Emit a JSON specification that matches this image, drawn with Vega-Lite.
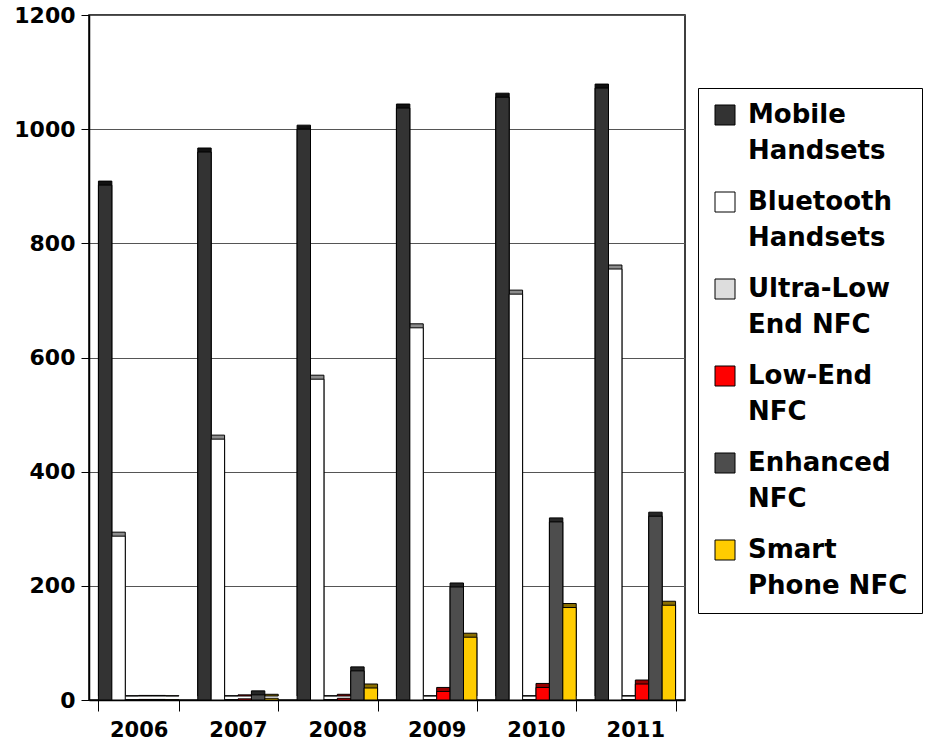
{
  "$schema": "https://vega.github.io/schema/vega-lite/v6.json",
  "autosize": {"type": "none"},
  "padding": {"left": 89, "top": 15, "right": 241, "bottom": 46},
  "width": 596,
  "height": 685,
  "background": "white",
  "config": {
    "view": {"stroke": "black", "strokeWidth": 1.5},
    "font": "DejaVu Sans"
  },
  "data": {
    "values": [
      {"year": "2006", "series": "Mobile Handsets", "value": 902},
      {"year": "2007", "series": "Mobile Handsets", "value": 960},
      {"year": "2008", "series": "Mobile Handsets", "value": 1000},
      {"year": "2009", "series": "Mobile Handsets", "value": 1037},
      {"year": "2010", "series": "Mobile Handsets", "value": 1056},
      {"year": "2011", "series": "Mobile Handsets", "value": 1072},
      {"year": "2006", "series": "Bluetooth Handsets", "value": 287},
      {"year": "2007", "series": "Bluetooth Handsets", "value": 457},
      {"year": "2008", "series": "Bluetooth Handsets", "value": 562},
      {"year": "2009", "series": "Bluetooth Handsets", "value": 652},
      {"year": "2010", "series": "Bluetooth Handsets", "value": 711},
      {"year": "2011", "series": "Bluetooth Handsets", "value": 755},
      {"year": "2006", "series": "Ultra-Low End NFC", "value": 0.5},
      {"year": "2007", "series": "Ultra-Low End NFC", "value": 0.5},
      {"year": "2008", "series": "Ultra-Low End NFC", "value": 0.5},
      {"year": "2009", "series": "Ultra-Low End NFC", "value": 0.5},
      {"year": "2010", "series": "Ultra-Low End NFC", "value": 0.5},
      {"year": "2011", "series": "Ultra-Low End NFC", "value": 0.5},
      {"year": "2006", "series": "Low-End NFC", "value": 1},
      {"year": "2007", "series": "Low-End NFC", "value": 2},
      {"year": "2008", "series": "Low-End NFC", "value": 3},
      {"year": "2009", "series": "Low-End NFC", "value": 15},
      {"year": "2010", "series": "Low-End NFC", "value": 22},
      {"year": "2011", "series": "Low-End NFC", "value": 28},
      {"year": "2006", "series": "Enhanced NFC", "value": 1},
      {"year": "2007", "series": "Enhanced NFC", "value": 9},
      {"year": "2008", "series": "Enhanced NFC", "value": 51},
      {"year": "2009", "series": "Enhanced NFC", "value": 198},
      {"year": "2010", "series": "Enhanced NFC", "value": 312},
      {"year": "2011", "series": "Enhanced NFC", "value": 322},
      {"year": "2006", "series": "Smart Phone NFC", "value": 0.5},
      {"year": "2007", "series": "Smart Phone NFC", "value": 3},
      {"year": "2008", "series": "Smart Phone NFC", "value": 21},
      {"year": "2009", "series": "Smart Phone NFC", "value": 110},
      {"year": "2010", "series": "Smart Phone NFC", "value": 162},
      {"year": "2011", "series": "Smart Phone NFC", "value": 166}
    ]
  },
  "encoding": {
    "x": {
      "field": "year", "type": "nominal",
      "scale": {"paddingInner": 0.19, "paddingOuter": 0.095},
      "axis": {
        "title": null, "labelAngle": 0, "tickBand": "extent",
        "labelFont": "DejaVu Sans", "labelFontWeight": "bold", "labelFontSize": 21,
        "labelColor": "black", "labelPadding": 8,
        "tickColor": "black", "tickSize": 11, "domainColor": "black", "domainWidth": 1.5, "grid": false
      }
    },
    "xOffset": {
      "field": "series", "type": "nominal",
      "scale": {"domain": ["Mobile Handsets", "Bluetooth Handsets", "Ultra-Low End NFC", "Low-End NFC", "Enhanced NFC", "Smart Phone NFC"], "paddingInner": 0, "paddingOuter": 0}
    },
    "y": {
      "field": "value", "type": "quantitative",
      "scale": {"domain": [0, 1200], "nice": false},
      "axis": {
        "title": null, "values": [0, 200, 400, 600, 800, 1000, 1200], "format": "d",
        "labelFont": "DejaVu Sans", "labelFontWeight": "bold", "labelFontSize": 22,
        "labelColor": "black", "labelPadding": 6,
        "tickColor": "black", "tickSize": 8, "domainColor": "black", "domainWidth": 1.5,
        "grid": true, "gridColor": "#555555", "gridWidth": 1.2, "gridOpacity": 1
      }
    }
  },
  "layer": [
    {
      "mark": {"type": "bar", "xOffset": 4, "yOffset": -4, "stroke": "black", "strokeWidth": 1, "width": {"band": 1}},
      "encoding": {
        "color": {
          "field": "series", "type": "nominal", "legend": null,
          "scale": {
            "domain": ["Mobile Handsets", "Bluetooth Handsets", "Ultra-Low End NFC", "Low-End NFC", "Enhanced NFC", "Smart Phone NFC"],
            "range": ["#111111", "#8c8c8c", "#9a9a9a", "#990000", "#262626", "#8a6e00"]
          }
        }
      }
    },
    {
      "mark": {"type": "bar", "stroke": "black", "strokeWidth": 1, "width": {"band": 1}},
      "encoding": {
        "color": {
          "field": "series", "type": "nominal",
          "scale": {
            "domain": ["Mobile Handsets", "Bluetooth Handsets", "Ultra-Low End NFC", "Low-End NFC", "Enhanced NFC", "Smart Phone NFC"],
            "range": ["#333333", "#ffffff", "#dddddd", "#ff0000", "#4d4d4d", "#ffcc00"]
          },
          "legend": {
            "title": null, "orient": "none", "legendX": 609, "legendY": 73,
            "strokeColor": "black", "fillColor": "white", "padding": 14,
            "symbolType": "square", "symbolSize": 400, "symbolStrokeColor": "black", "symbolStrokeWidth": 1,
            "labelFont": "DejaVu Sans", "labelFontWeight": "bold", "labelFontSize": 26, "labelColor": "black",
            "labelLimit": 300, "labelOffset": 10, "rowPadding": 25,
            "labelExpr": "datum.label == 'Mobile Handsets' ? ['Mobile', 'Handsets'] : datum.label == 'Bluetooth Handsets' ? ['Bluetooth', 'Handsets'] : datum.label == 'Ultra-Low End NFC' ? ['Ultra-Low', 'End NFC'] : datum.label == 'Low-End NFC' ? ['Low-End', 'NFC'] : datum.label == 'Enhanced NFC' ? ['Enhanced', 'NFC'] : ['Smart', 'Phone NFC']",
            "encoding": {"labels": {"lineHeight": {"value": 36}}}
          }
        }
      }
    }
  ],
  "resolve": {"scale": {"color": "independent"}}
}
